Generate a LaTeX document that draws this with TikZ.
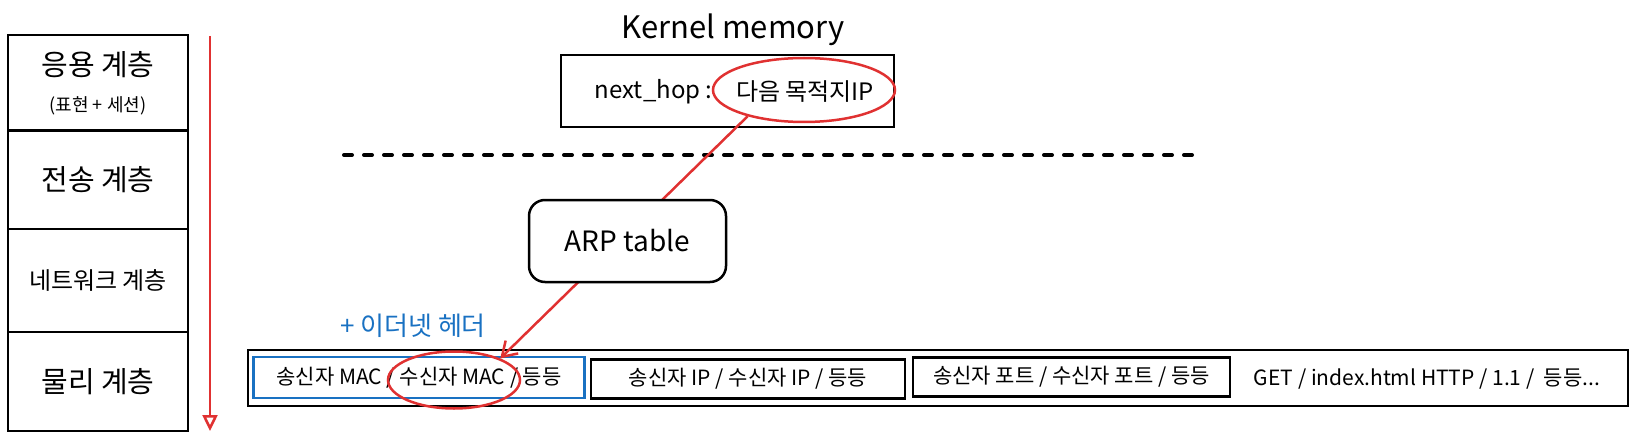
\documentclass[tikz,border=0pt]{standalone}
\usepackage{fontspec}
\setmainfont{Noto Sans CJK KR}
\usetikzlibrary{arrows.meta,shapes.geometric}
\definecolor{markred}{HTML}{E03131}
\definecolor{markblue}{HTML}{1971C2}

\begin{document}
\begin{tikzpicture}[x=1pt, y=-1pt,
  cell/.style={draw, line width=2.5, minimum width=180, font=\fontsize{29}{36}\selectfont},
  field/.style={draw, line width=2.5, minimum height=39, font=\fontsize{21}{25}\selectfont},
  ring/.style={draw=markred, line width=2.5, ellipse}]
\useasboundingbox (0,0) rectangle (1636,441);

\node[cell, minimum height=96, align=center] (app) at (98,83)
{응용 계층\\[0pt]{\fontsize{18}{22}\selectfont (표현 + 세션)}};

\node[cell, minimum height=99] (trans) at (98,179.5) {전송 계층};

\node[cell, minimum height=103, font=\fontsize{24}{30}\selectfont] (net) at (98,280.5) {네트워크 계층};

\node[cell, minimum height=99] (phy) at (98,381.5) {물리 계층};

\coordinate (downtop) at (210,36);
\coordinate (downend) at (210,431);
\draw[markred, line width=2.5, -{Triangle[open, length=16pt, width=15pt]}] (downtop) -- (downend);

\node[font=\fontsize{31}{36}\selectfont] (kerneltitle) at (733,30) {Kernel memory};

\node[draw, line width=2.5, minimum width=333, minimum height=72] (kernel) at (727.5,91) {};
\node[anchor=east, font=\fontsize{24}{30}\selectfont] (hopkey) at (716,92) {next\_hop :};
\node[font=\fontsize{24}{30}\selectfont] (hopval) at (805,92) {다음 목적지IP};
\node[ring, minimum width=182, minimum height=64] (hopring) at (804,90) {};

\draw[line width=4, line cap=round, dash pattern=on 8pt off 12pt] (344,155) -- (1193,155);

\node[draw, line width=2, minimum width=1380, minimum height=56] (packet) at (938,377.5) {};

\node[field, draw=markblue, minimum width=331, minimum height=41] (ether) at (419,377.5) {송신자 MAC / 수신자 MAC / 등등};

\node[field, minimum width=314] (ip) at (748,379) {송신자 IP / 수신자 IP / 등등};

\node[field, minimum width=317] (tcp) at (1071.5,377) {송신자 포트 / 수신자 포트 / 등등};

\node[font=\fontsize{21}{25}\selectfont] (http) at (1427,379) {GET / index.html HTTP / 1.1 / \ 등등...};

\node[text=markblue, font=\fontsize{26}{32}\selectfont] (ethlabel) at (413,326) {+ 이더넷 헤더};

\node[ring, minimum width=132, minimum height=57] (macring) at (454,380) {};

\draw[markred, line width=2.5, -{Straight Barb[length=14pt, width=18pt]}] (hopring.205) -- (macring.25);

\node[draw, line width=2.5, rounded corners=16, fill=white, minimum width=197, minimum height=82,
  font=\fontsize{28}{34}\selectfont] (arp) at (627.5,241) {ARP table};
\end{tikzpicture}
\end{document}
